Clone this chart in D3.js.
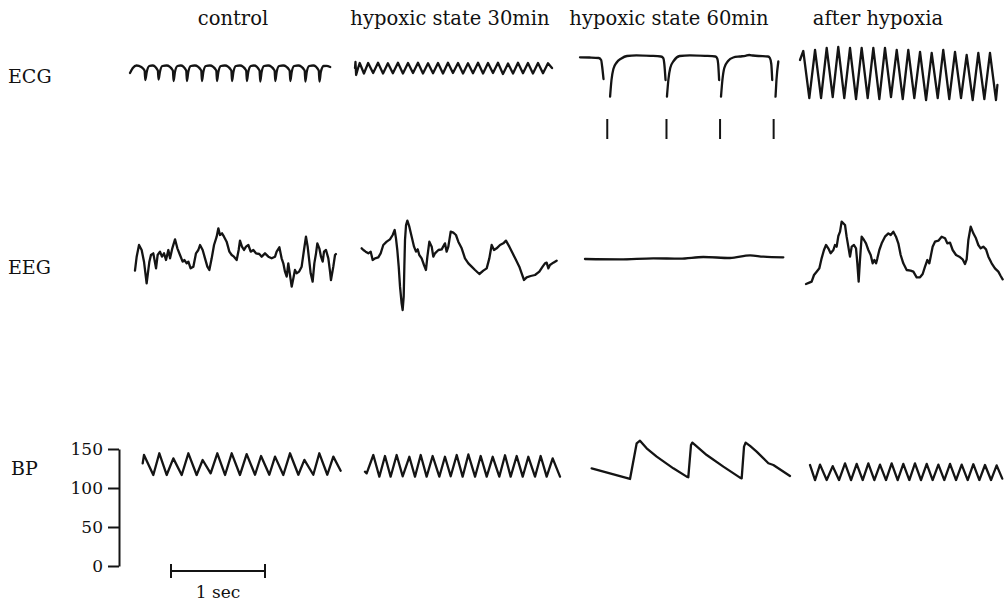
<!DOCTYPE html>
<html>
<head>
<meta charset="utf-8">
<script src="https://cdn.jsdelivr.net/npm/d3@7"></script>
<style>
  html, body { margin: 0; padding: 0; background: #fff; }
  svg { display: block; }
  text { font-family: "DejaVu Serif", "Liberation Serif", serif; fill: #111; }
</style>
</head>
<body>
<svg id="chart" width="1007" height="601"></svg>
<script>
// ---------------- DATA ----------------
const columns = ["control", "hypoxic state 30min", "hypoxic state 60min", "after hypoxia"];
const rows = ["ECG", "EEG", "BP"];
const bpTicks = [0, 50, 100, 150];
const scaleBarSec = 1;
const scaleBarLabel = "1 sec";

// ECG: [time (s), mV]
const ecgControl = [[0,-0.3],[0.03,0.2],[0.07,0.45],[0.12,0.3],[0.155,-0.05],[0.163,-1.0],[0.178,-0.2],[0.205,0.4],[0.24,0.45],[0.296,-0.05],[0.304,-0.95],[0.318,-0.2],[0.345,0.4],[0.39,0.45],[0.456,-0.05],[0.464,-1.1],[0.478,-0.2],[0.505,0.4],[0.54,0.45],[0.598,-0.05],[0.606,-1.1],[0.62,-0.2],[0.647,0.4],[0.69,0.45],[0.758,-0.05],[0.766,-1.1],[0.78,-0.2],[0.807,0.4],[0.85,0.45],[0.918,-0.05],[0.926,-1.1],[0.94,-0.2],[0.967,0.4],[1.01,0.45],[1.078,-0.05],[1.086,-1.1],[1.10,-0.2],[1.127,0.4],[1.17,0.45],[1.236,-0.05],[1.244,-1.1],[1.258,-0.2],[1.285,0.4],[1.32,0.45],[1.378,-0.05],[1.386,-1.15],[1.40,-0.2],[1.427,0.4],[1.47,0.45],[1.538,-0.05],[1.546,-1.1],[1.56,-0.2],[1.587,0.4],[1.63,0.45],[1.698,-0.05],[1.706,-1.1],[1.72,-0.2],[1.747,0.4],[1.79,0.45],[1.858,-0.05],[1.866,-1.15],[1.88,-0.2],[1.907,0.4],[1.95,0.45],[2.008,-0.05],[2.016,-1.15],[2.03,-0.2],[2.06,0.4],[2.09,0.42],[2.13,0.3]];

const ecg30 = [[0,0.2],[0.005,0.8],[0.012,-0.5],[0.03,0.1],[0.05,0.7],[0.095,-0.35],[0.14,0.7],[0.193,-0.3],[0.245,0.72],[0.298,-0.35],[0.35,0.68],[0.403,-0.33],[0.457,0.72],[0.51,-0.35],[0.564,0.7],[0.617,-0.3],[0.67,0.72],[0.723,-0.35],[0.777,0.68],[0.83,-0.33],[0.883,0.7],[0.936,-0.35],[0.989,0.72],[1.042,-0.3],[1.096,0.7],[1.149,-0.35],[1.202,0.68],[1.255,-0.33],[1.309,0.72],[1.362,-0.35],[1.415,0.7],[1.468,-0.3],[1.521,0.72],[1.574,-0.4],[1.628,0.65],[1.681,-0.35],[1.734,0.72],[1.787,-0.33],[1.84,0.7],[1.893,-0.35],[1.947,0.7],[2.0,-0.33],[2.053,0.68],[2.096,0.2]];

const ecg60 = [
  [[0,1.27],[0.1,1.25],[0.2,1.2],[0.225,1.0],[0.235,0.4],[0.25,-0.9]],
  [[0.32,-2.67],[0.335,-1.0],[0.355,0.1],[0.39,0.75],[0.44,1.15],[0.5,1.4],[0.6,1.47],[0.75,1.42],[0.86,1.35],[0.885,1.2],[0.897,0.6],[0.91,-1.0]],
  [[0.925,-2.67],[0.94,-1.0],[0.96,0.2],[1.0,0.95],[1.06,1.4],[1.17,1.47],[1.33,1.42],[1.44,1.35],[1.46,1.15],[1.47,0.6],[1.48,-1.0]],
  [[1.50,-2.67],[1.515,-1.0],[1.535,0.2],[1.575,0.9],[1.63,1.25],[1.70,1.35],[1.76,1.42],[1.80,1.5],[1.84,1.45],[1.9,1.4],[2.0,1.35],[2.02,1.2],[2.035,0.6],[2.045,-1.0]],
  [[2.08,-2.67],[2.09,-1.0],[2.11,0.85]]
];
const ecg60Marks = [0.29, 0.92, 1.49, 2.06];

const ecgAfter = [[0,1.0],[0.035,1.9],[0.099,-2.8],[0.16,2.0],[0.224,-2.8],[0.284,2.2],[0.348,-2.7],[0.407,2.3],[0.471,-2.8],[0.532,2.2],[0.596,-2.9],[0.656,2.2],[0.72,-2.8],[0.78,2.2],[0.844,-2.9],[0.904,2.2],[0.968,-2.7],[1.029,2.0],[1.093,-2.9],[1.152,2.0],[1.216,-2.8],[1.277,1.8],[1.341,-3.0],[1.401,1.7],[1.465,-2.8],[1.524,2.0],[1.588,-2.9],[1.649,1.8],[1.713,-2.8],[1.773,1.5],[1.837,-3.0],[1.897,1.7],[1.961,-2.9],[2.021,1.7],[2.085,-3.0],[2.10,-1.5]];

// EEG: [time (s), µV]
const eegControl = [[0.053,-16],[0.071,5],[0.096,22.5],[0.124,15],[0.149,-2.5],[0.177,-35],[0.206,-2.5],[0.223,7.5],[0.248,10],[0.277,-12.5],[0.294,7.5],[0.319,12.5],[0.34,5],[0.362,10],[0.383,0],[0.408,15],[0.426,2.5],[0.45,17.5],[0.479,31],[0.504,17.5],[0.532,7.5],[0.56,-2.5],[0.578,0],[0.603,-5],[0.621,-2.5],[0.645,-12.5],[0.674,-10],[0.702,10],[0.727,15],[0.745,22.5],[0.773,15],[0.798,2.5],[0.823,-10],[0.844,-15],[0.869,2.5],[0.894,22.5],[0.922,35],[0.94,47.5],[0.957,37.5],[0.979,40],[1.0,35],[1.028,27.5],[1.057,12.5],[1.082,7.5],[1.106,5],[1.135,0],[1.156,15],[1.17,29],[1.191,20],[1.213,15],[1.234,20],[1.259,22.5],[1.284,12.5],[1.312,15],[1.34,10],[1.376,9],[1.401,5],[1.436,10],[1.472,5],[1.507,2.5],[1.543,5],[1.56,12.5],[1.589,19],[1.613,2.5],[1.631,-5],[1.649,-17.5],[1.667,-25],[1.684,-5],[1.702,-22.5],[1.72,-40],[1.738,-27.5],[1.755,-15],[1.773,-20],[1.798,-17.5],[1.826,-10],[1.851,15],[1.872,35],[1.89,20],[1.908,-2.5],[1.922,-20],[1.943,-32.5],[1.961,-5],[1.979,10],[1.993,25],[2.014,17.5],[2.032,5],[2.05,-2.5],[2.064,12.5],[2.085,15],[2.11,2.5],[2.128,-17.5],[2.138,-30],[2.163,-10],[2.181,7.5],[2.191,9]];

const eeg30 = [[0.071,17.5],[0.089,15],[0.113,12.5],[0.142,10],[0.167,12.5],[0.188,0],[0.213,2.5],[0.248,4],[0.273,10],[0.301,22.5],[0.337,27.5],[0.372,31],[0.401,37.5],[0.422,45],[0.436,32.5],[0.45,15],[0.465,-10],[0.479,-40],[0.496,-65],[0.507,-75],[0.518,-55],[0.525,-10],[0.532,30],[0.543,52.5],[0.557,59],[0.578,50],[0.603,35],[0.628,20],[0.649,12.5],[0.667,16],[0.684,7.5],[0.709,2.5],[0.734,-7.5],[0.755,-15],[0.77,5],[0.791,27.5],[0.816,20],[0.833,5],[0.851,10],[0.887,15],[0.922,16],[0.957,25],[0.975,12.5],[0.993,20],[1.018,42.5],[1.046,41],[1.074,37.5],[1.099,27.5],[1.135,17.5],[1.17,2.5],[1.206,-5],[1.241,-10],[1.277,-15],[1.323,-21],[1.365,-16],[1.401,-12.5],[1.429,2.5],[1.454,22.5],[1.479,15],[1.507,17.5],[1.543,22.5],[1.578,25],[1.606,29],[1.642,20],[1.677,10],[1.713,0],[1.748,-10],[1.773,-20],[1.798,-30],[1.826,-26],[1.869,-24],[1.915,-22.5],[1.961,-17.5],[1.996,-10],[2.021,-5],[2.039,-4],[2.057,-12.5],[2.074,-7.5],[2.11,-4],[2.145,-1]];

const eeg60 = [[0.053,1.5],[0.426,1],[0.78,2.5],[1.064,2],[1.312,4.5],[1.596,3],[1.809,7],[1.95,5],[2.163,4]];

const eegAfter = [[0.064,-36],[0.099,-34],[0.124,-32.5],[0.149,-22.5],[0.177,-17.5],[0.206,-12.5],[0.23,2.5],[0.255,15],[0.277,22.5],[0.301,17.5],[0.326,10],[0.355,15],[0.372,22.5],[0.39,20],[0.408,36],[0.426,42.5],[0.443,57.5],[0.461,55],[0.479,52.5],[0.496,35],[0.514,20],[0.532,5],[0.55,20],[0.574,22.5],[0.596,17.5],[0.61,-5],[0.624,-32.5],[0.638,0],[0.656,35],[0.681,30],[0.702,25],[0.727,15],[0.752,7.5],[0.773,-5],[0.791,0],[0.809,-5],[0.823,2.5],[0.844,15],[0.869,25],[0.904,35],[0.94,40],[0.965,37.5],[0.993,42.5],[1.021,35],[1.046,25],[1.071,7.5],[1.099,-5],[1.135,-15],[1.177,-16],[1.206,-17.5],[1.241,-26],[1.277,-26],[1.305,-21],[1.33,-10],[1.355,0],[1.376,-5],[1.39,5],[1.411,20],[1.436,27.5],[1.472,29],[1.507,35],[1.543,32.5],[1.567,25],[1.596,26],[1.624,15],[1.66,7.5],[1.695,5],[1.73,1],[1.755,-6],[1.773,1],[1.791,30],[1.816,50],[1.844,40],[1.872,32.5],[1.897,22.5],[1.922,17.5],[1.95,20],[1.979,16],[2.004,5],[2.039,-5],[2.074,-12.5],[2.11,-17.5],[2.135,-24],[2.156,-29]];

// BP: [time (s), mmHg]
const bpControl = [[0.135,131.6],[0.149,142.3],[0.248,116.7],[0.312,144.5],[0.39,116.7],[0.461,138],[0.55,116.7],[0.621,144.5],[0.709,116.7],[0.773,135.9],[0.858,118.8],[0.929,144.5],[1.011,116.7],[1.082,144.5],[1.17,116.7],[1.241,143.5],[1.33,117],[1.394,141],[1.482,117],[1.543,140.2],[1.631,116.7],[1.702,144.5],[1.791,117],[1.855,136],[1.95,117],[2.014,144.5],[2.099,117],[2.163,140.2],[2.241,122.2]];

const bp30 = [[0.106,120.9],[0.124,118.8],[0.195,142.3],[0.259,114.5],[0.319,141],[0.379,114.5],[0.443,142.3],[0.507,115],[0.578,140],[0.638,114.5],[0.699,142.3],[0.762,114.5],[0.826,141],[0.897,114.5],[0.957,140],[1.018,115],[1.082,142.3],[1.145,114.5],[1.206,143],[1.277,114.5],[1.337,141],[1.401,114.5],[1.465,140],[1.535,114.5],[1.596,142],[1.656,114.5],[1.72,141],[1.784,114.5],[1.844,140],[1.915,114.5],[1.975,141],[2.039,114.5],[2.103,138],[2.181,114.5]];

const bp60 = [[0.124,125.2],[0.532,111.6],[0.603,157.3],[0.638,160.7],[0.709,150.9],[0.816,140.2],[0.993,125.2],[1.135,114.6],[1.152,113.7],[1.181,155.2],[1.195,158.2],[1.223,155.2],[1.348,142.3],[1.525,127.4],[1.702,113.3],[1.72,112.4],[1.745,153],[1.762,158.2],[1.809,153.9],[1.879,146.6],[2.004,131.7],[2.057,129.5],[2.234,115.4]];

const bpAfter = [[0.106,129.5],[0.16,110.2],[0.213,130],[0.284,110.2],[0.348,128],[0.415,110.2],[0.479,131.6],[0.543,110.2],[0.603,131],[0.667,110.2],[0.727,131.6],[0.791,110.2],[0.851,130],[0.915,110.2],[0.975,131.6],[1.039,110.2],[1.099,131],[1.163,110.2],[1.223,131.6],[1.287,110.2],[1.348,131],[1.411,110.2],[1.472,130],[1.535,110.2],[1.596,131],[1.66,110.2],[1.72,130],[1.784,110.2],[1.844,130.5],[1.908,110.2],[1.968,129.5],[2.032,110.2],[2.092,129],[2.152,112]];

// ---------------- LAYOUT ----------------
const svg = d3.select("#chart");
const ink = "#141414";
const colOrigin = [130, 355, 580, 800];
const colCenter = [233, 450, 669, 878];
const pxPerSec = 94;

const x = d3.scaleLinear().domain([0, 1]).range([0, pxPerSec]);
const yECG = d3.scaleLinear().domain([-1, 1]).range([80, 60]);
const yEEG = d3.scaleLinear().domain([-60, 60]).range([300, 220]);
const yBP = d3.scaleLinear().domain([0, 150]).range([566, 449]);

// Titles
svg.selectAll("text.title").data(columns).join("text")
  .attr("class", "title")
  .attr("x", (d, i) => colCenter[i]).attr("y", 25)
  .attr("text-anchor", "middle").attr("font-size", 19.5)
  .text(d => d);

// Row labels
const rowLabelPos = [[8, 83], [8, 274], [11, 475]];
svg.selectAll("text.row").data(rows).join("text")
  .attr("class", "row")
  .attr("x", (d, i) => rowLabelPos[i][0]).attr("y", (d, i) => rowLabelPos[i][1])
  .attr("font-size", 19).text(d => d);

function trace(col, data, yScale, curve) {
  const g = svg.append("g").attr("transform", `translate(${colOrigin[col]},0)`);
  const line = d3.line().x(d => x(d[0])).y(d => yScale(d[1])).curve(curve || d3.curveLinear);
  g.append("path").attr("d", line(data))
    .attr("fill", "none").attr("stroke", ink).attr("stroke-width", 2.3)
    .attr("stroke-linejoin", "round").attr("stroke-linecap", "round");
  return g;
}

// ECG row
trace(0, ecgControl, yECG, d3.curveMonotoneX);
trace(1, ecg30, yECG);
ecg60.forEach(seg => trace(2, seg, yECG, d3.curveMonotoneX));
trace(3, ecgAfter, yECG);
const markG = svg.append("g").attr("transform", `translate(${colOrigin[2]},0)`);
markG.selectAll("line").data(ecg60Marks).join("line")
  .attr("x1", d => x(d)).attr("x2", d => x(d))
  .attr("y1", 119).attr("y2", 139)
  .attr("stroke", ink).attr("stroke-width", 2);

// EEG row
trace(0, eegControl, yEEG);
trace(1, eeg30, yEEG);
trace(2, eeg60, yEEG, d3.curveMonotoneX);
trace(3, eegAfter, yEEG);

// BP row
trace(0, bpControl, yBP);
trace(1, bp30, yBP);
trace(2, bp60, yBP);
trace(3, bpAfter, yBP);

// BP axis
const axisG = svg.append("g").attr("transform", "translate(119,0)")
  .call(d3.axisLeft(yBP).tickValues(bpTicks).tickSizeInner(11).tickSizeOuter(0).tickPadding(5));
axisG.select(".domain").attr("stroke", ink).attr("stroke-width", 2);
axisG.selectAll(".tick line").attr("stroke", ink).attr("stroke-width", 2);
axisG.selectAll(".tick text")
  .attr("font-family", "DejaVu Serif, serif").attr("font-size", 17).attr("fill", ink);

// 1 sec scale bar
const sbX0 = 171, sbY = 571;
const sbG = svg.append("g").attr("transform", `translate(${sbX0},${sbY})`);
sbG.append("line").attr("x1", x(0)).attr("x2", x(scaleBarSec)).attr("y1", 0).attr("y2", 0)
  .attr("stroke", ink).attr("stroke-width", 2);
sbG.selectAll("line.cap").data([0, scaleBarSec]).join("line").attr("class", "cap")
  .attr("x1", d => x(d)).attr("x2", d => x(d)).attr("y1", -7).attr("y2", 7)
  .attr("stroke", ink).attr("stroke-width", 2);
sbG.append("text").attr("x", x(scaleBarSec / 2)).attr("y", 27)
  .attr("text-anchor", "middle").attr("font-size", 17).text(scaleBarLabel);
</script>
</body>
</html>
